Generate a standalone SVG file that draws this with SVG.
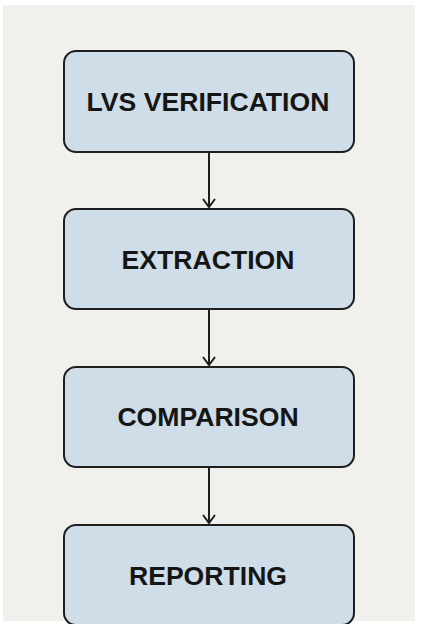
<svg xmlns="http://www.w3.org/2000/svg" width="428" height="624" viewBox="0 0 428 624">
<defs>
<style>
.box{fill:#cedde7;stroke:#1e1e1e;stroke-width:2}
.lbl{font-family:"Liberation Sans",Arial,sans-serif;font-weight:bold;font-size:26.6px;fill:#151515;text-anchor:middle;dominant-baseline:central}
.edge{stroke:#1e1e1e;stroke-width:2;fill:none}
</style>
<marker id="arr" markerWidth="12" markerHeight="14" refX="10" refY="7" orient="auto" markerUnits="userSpaceOnUse" viewBox="0 0 12 14">
<path d="M2,1 L10,7 L2,13" fill="none" stroke="#1e1e1e" stroke-width="2"/>
</marker>
</defs>
<rect width="428" height="624" fill="#ffffff"/>
<rect x="3" y="5" width="412" height="616" fill="#f1f0ed"/>
<g id="edges">
<line class="edge" x1="209" y1="152" x2="209" y2="207" marker-end="url(#arr)"/>
<line class="edge" x1="209" y1="310" x2="209" y2="365" marker-end="url(#arr)"/>
<line class="edge" x1="209" y1="468" x2="209" y2="523" marker-end="url(#arr)"/>
</g>
<g id="n1"><rect class="box" x="64" y="51" width="290" height="101" rx="12"/><text class="lbl" x="208" y="102">LVS VERIFICATION</text></g>
<g id="n2"><rect class="box" x="64" y="209" width="290" height="100" rx="12"/><text class="lbl" x="208" y="260">EXTRACTION</text></g>
<g id="n3"><rect class="box" x="64" y="367" width="290" height="100" rx="12"/><text class="lbl" x="208" y="417">COMPARISON</text></g>
<g id="n4"><rect class="box" x="64" y="525" width="290" height="100" rx="12"/><text class="lbl" x="208" y="576">REPORTING</text></g>
</svg>
